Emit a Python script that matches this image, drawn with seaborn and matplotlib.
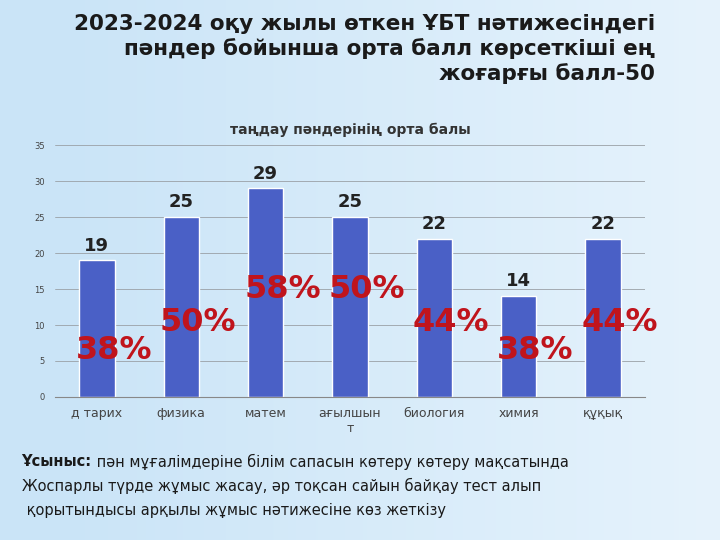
import numpy as np
import pandas as pd
import matplotlib
matplotlib.use('Agg')
import matplotlib.pyplot as plt
import seaborn as sns

sns.set_style('white')
plt.rcParams['font.family'] = ['DejaVu Sans']

subjects = ['д тарих', 'физика', 'матем', 'ағылшын\nт', 'биология', 'химия', 'құқық']
avg_scores = [19, 25, 29, 25, 22, 14, 22]
percent_labels = ['38%', '50%', '58%', '50%', '44%', '38%', '44%']
percent_y = [6.5, 10.4, 14.9, 14.9, 10.4, 6.5, 10.4]

df = pd.DataFrame({'subject': subjects, 'score': avg_scores})

fig = plt.figure(figsize=(7.2, 5.4), dpi=100)

# light blue background gradient
bg = fig.add_axes([0, 0, 1, 1], zorder=-10)
yy, xx = np.mgrid[0:1:200j, 0:1:200j]
grad = 0.55 + 0.45 * np.clip((xx - 0.1) * 1.1, 0, 1)
bg.imshow(grad, cmap=matplotlib.colors.LinearSegmentedColormap.from_list(
    'b', ['#a9d3f2', '#e6f3fc']), aspect='auto', extent=[0, 1, 0, 1], vmin=0, vmax=1)
bg.axis('off')

ax = fig.add_axes([0.076, 0.265, 0.82, 0.466])
sns.barplot(data=df, x='subject', y='score', color='#4a60c6', width=0.42,
            saturation=1, ax=ax)
ax.set_facecolor('none')
ax.set_ylim(0, 35)
ax.set_yticks(range(0, 36, 5))
ax.tick_params(axis='y', labelsize=6, colors='#444444')
ax.tick_params(axis='x', labelsize=9, colors='#444444')
ax.set_xlabel('')
ax.set_ylabel('')
ax.grid(axis='y', color='#9aa0a6', linewidth=0.6)
ax.set_axisbelow(True)
for s in ['top', 'right', 'left']:
    ax.spines[s].set_visible(False)
ax.spines['bottom'].set_color('#888888')

for i, v in enumerate(avg_scores):
    ax.text(i, v + 0.8, str(v), ha='center', va='bottom', fontsize=13,
            fontweight='bold', color='#222222')
for i, (p, y) in enumerate(zip(percent_labels, percent_y)):
    ax.text(i + 0.2, y, p, ha='center', va='center', fontsize=23,
            fontweight='bold', color='#c0141c')

ax.set_title('таңдау пәндерінің орта балы', fontsize=10, fontweight='bold',
             color='#333333', pad=8)

fig.text(0.91, 0.975, '2023-2024 оқу жылы өткен ҰБТ нәтижесіндегі\n'
         'пәндер бойынша орта балл көрсеткіші ең\nжоғарғы балл-50',
         ha='right', va='top', fontsize=15.5, fontweight='bold',
         color='#1a1a1a', linespacing=1.25)

lbl = fig.text(0.03, 0.145, 'Ұсыныс:', fontsize=10.5, fontweight='bold',
               va='center', color='#1a1a1a')
fig.text(0, 0, ' пән мұғалімдеріне білім сапасын көтеру көтеру мақсатында',
         fontsize=10.5, va='center', color='#1a1a1a',
         transform=matplotlib.transforms.offset_copy(
             fig.transFigure, fig=fig, x=0, y=0))
fig.texts[-1].remove()
ax.annotate(' пән мұғалімдеріне білім сапасын көтеру көтеру мақсатында',
            xy=(1, 0.5), xycoords=lbl, ha='left', va='center',
            fontsize=10.5, color='#1a1a1a', annotation_clip=False)
fig.text(0.03, 0.1, 'Жоспарлы түрде жұмыс жасау, әр тоқсан сайын байқау тест алып',
         fontsize=10.5, va='center', color='#1a1a1a')
fig.text(0.03, 0.055, ' қорытындысы арқылы жұмыс нәтижесіне көз жеткізу',
         fontsize=10.5, va='center', color='#1a1a1a')

fig.savefig('out.png', dpi=100)
